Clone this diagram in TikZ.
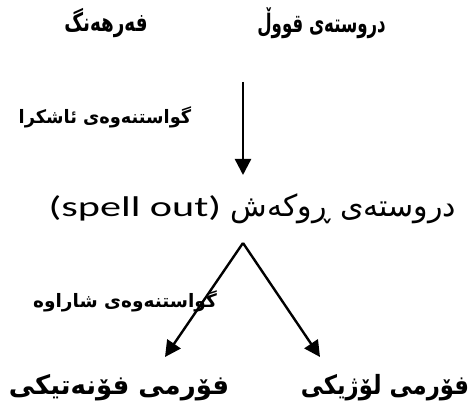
\documentclass[tikz,border=0pt]{standalone}
\usepackage{graphicx}
\usepackage{fontspec}
\setmainfont{DejaVu Sans}
\newfontfamily\arabicfont[Script=Arabic]{DejaVu Sans}
\newfontfamily\latinfont{Carlito}
\TeXXeTstate=1
\usetikzlibrary{arrows.meta}
\begin{document}
\begin{tikzpicture}[x=1pt,y=1pt,
  txt/.style={inner sep=0pt},
  big/.style={txt, font=\arabicfont\bfseries\fontsize{25.5}{28}\selectfont},
  bot/.style={txt, font=\arabicfont\bfseries\fontsize{26.5}{29}\selectfont},
  mid/.style={txt, font=\arabicfont\fontsize{30}{33}\selectfont},
  lbl/.style={txt, font=\arabicfont\bfseries\fontsize{18.5}{21}\selectfont},
  arr/.style={line width=2.4pt, -{Triangle[length=16pt,width=16pt]}}]
\useasboundingbox (0,0) rectangle (472,412);
\node[big] (lex) at (106,389) {\scalebox{0.72}[1]{\beginR فەرهەنگ\endR}};
\node[big] (deep) at (321.5,389) {\scalebox{0.65}[1]{\beginR دروستەی قووڵ\endR}};
\node[lbl] (lbl1) at (105,294.5) {\scalebox{0.96}[1]{\beginR گواستنەوەی ئاشکرا\endR}};
\node[mid] (surf) at (252.5,203.5) {{\latinfont\fontsize{28.5}{32}\selectfont\scalebox{1.48}[1]{(spell out)}}\ \beginR دروستەی ڕوکەش\endR};
\node[lbl] (lbl2) at (125,110.5) {\beginR گواستنەوەی شاراوە\endR};
\node[bot] (phon) at (119,24) {\scalebox{0.98}[1]{\beginR فۆرمی فۆنەتیکی\endR}};
\node[bot] (logf) at (385,24) {\scalebox{0.86}[1]{\beginR فۆرمی لۆژیکی\endR}};
\coordinate (vtop) at (243,330);
\coordinate (vtip) at (243,237);
\coordinate (apex) at (243,169);
\coordinate (ltip) at (165,55);
\coordinate (rtip) at (320,55);
\draw[arr] (vtop) -- (vtip);
\draw[arr] (apex) -- (ltip);
\draw[arr] (apex) -- (rtip);
\end{tikzpicture}
\end{document}
